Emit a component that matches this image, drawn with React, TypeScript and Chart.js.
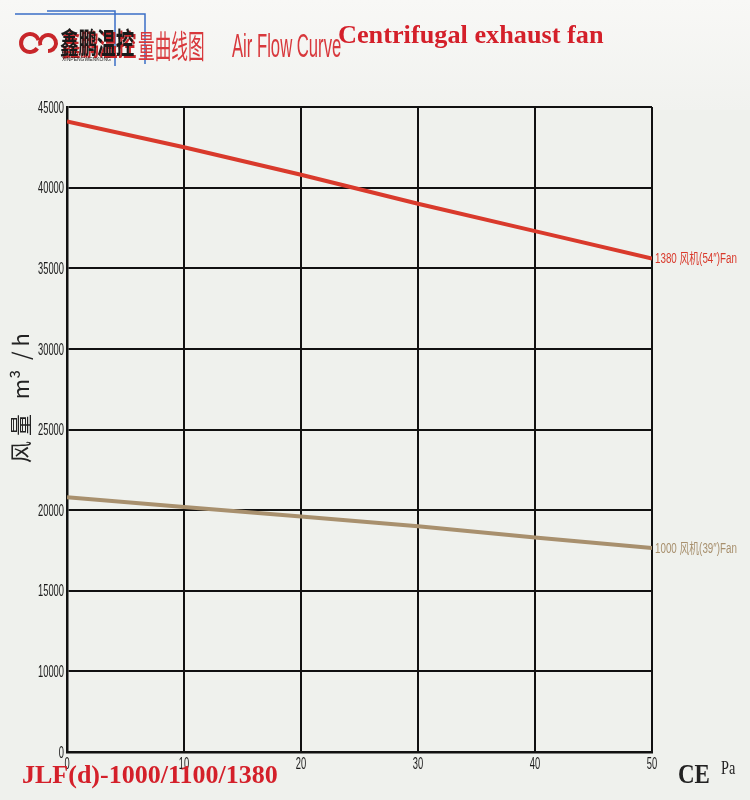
import React, { useEffect, useRef } from "react";
import { Chart, registerables } from "chart.js";

Chart.register(...registerables);

const pressure = [0, 10, 20, 30, 40, 50];
const flow1380 = [44100, 42500, 40800, 39000, 37300, 35600];
const flow1000 = [20800, 20200, 19600, 19000, 18300, 17650];
const seriesLabels = ["1380 风机(54″)Fan", "1000 风机(39″)Fan"];
const seriesColors = ["#d93a2c", "#a8906e"];
const yTicks = [5000, 10000, 15000, 20000, 25000, 30000, 35000, 40000, 45000];
const yTickLabels = ["0", "10000", "15000", "20000", "25000", "30000", "35000", "40000", "45000"];
const xTicks = [0, 10, 20, 30, 40, 50];

const SANS = '"Liberation Sans", "Noto Sans CJK SC", sans-serif';
const CJK = '"Noto Sans CJK SC", sans-serif';
const SERIF = '"Liberation Serif", "DejaVu Serif", serif';

function narrow(ctx: any, text: string, x: number, y: number, font: string, sx: number, align: string, color: string) {
  ctx.save();
  ctx.font = font;
  ctx.fillStyle = color;
  ctx.textAlign = align;
  ctx.translate(x, y);
  ctx.scale(sx, 1);
  ctx.fillText(text, 0, 0);
  ctx.restore();
}

const decorPlugin = {
  id: "decor",
  beforeDraw(chart: any) {
    const ctx = chart.ctx;
    ctx.save();
    ctx.fillStyle = "#eff1ed";
    ctx.fillRect(0, 0, chart.width, chart.height);
    const g = ctx.createLinearGradient(0, 0, 0, 110);
    g.addColorStop(0, "#f8f8f6");
    g.addColorStop(1, "#f1f2ef");
    ctx.fillStyle = g;
    ctx.fillRect(0, 0, chart.width, 110);
    ctx.restore();
  },
  afterDraw(chart: any) {
    const ctx = chart.ctx;
    const xs = chart.scales.x;
    const ys = chart.scales.y;
    ctx.save();
    ctx.textBaseline = "middle";
    // tick labels (condensed) from the scales' own ticks
    ys.ticks.forEach((t: any) => {
      const i = yTicks.indexOf(t.value);
      const lbl = i >= 0 ? yTickLabels[i] : String(t.value);
      narrow(ctx, lbl, ys.right - 3, ys.getPixelForValue(t.value) + 1, "17px " + SANS, 0.55, "right", "#1a1a1a");
    });
    xs.ticks.forEach((t: any) => {
      narrow(ctx, String(t.value), xs.getPixelForValue(t.value), xs.top + 12, "17px " + SANS, 0.55, "center", "#1a1a1a");
    });
    // series end labels
    const ends = [flow1380, flow1000];
    ends.forEach((arr, i) => {
      const px = xs.getPixelForValue(pressure[pressure.length - 1]);
      const py = ys.getPixelForValue(arr[arr.length - 1]);
      narrow(ctx, seriesLabels[i], px + 3, py + 1, "14px " + SANS, 0.7, "left", seriesColors[i]);
    });
    ctx.textBaseline = "alphabetic";
    // header: blue frame lines
    ctx.strokeStyle = "#3b6fc6";
    ctx.lineWidth = 1.5;
    ctx.beginPath();
    ctx.moveTo(15, 14);
    ctx.lineTo(145, 14);
    ctx.lineTo(145, 64);
    ctx.moveTo(47, 11);
    ctx.lineTo(115, 11);
    ctx.lineTo(115, 66);
    ctx.stroke();
    // logo swirl
    ctx.strokeStyle = "#c8262a";
    ctx.lineWidth = 4;
    ctx.beginPath();
    ctx.arc(30, 43, 9, Math.PI * 0.2, Math.PI * 1.9);
    ctx.stroke();
    ctx.beginPath();
    ctx.arc(48, 43, 8, Math.PI * 0.9, Math.PI * 2.5);
    ctx.stroke();
    // logo text
    narrow(ctx, "鑫鹏温控", 62, 56, "bold 29px " + CJK, 0.64, "left", "#c8262a");
    narrow(ctx, "鑫鹏温控", 60, 54, "bold 29px " + CJK, 0.64, "left", "#1a1a1a");
    narrow(ctx, "XINPENGWENKONG", 62, 61, "5px " + SANS, 1, "left", "#1a1a1a");
    // 风量曲线图 / Air Flow Curve
    narrow(ctx, "量曲线图", 138, 58, "32px " + CJK, 0.52, "left", "#d8383c");
    narrow(ctx, "Air Flow Curve", 232, 57, "34px " + SANS, 0.49, "left", "#d8383c");
    // title
    narrow(ctx, "Centrifugal exhaust fan", 338, 43, "bold 26px " + SERIF, 1.01, "left", "#d4202a");
    // bottom model text
    narrow(ctx, "JLF(d)-1000/1100/1380", 22, 783, "bold 26px " + SERIF, 1, "left", "#d4202a");
    // CE and Pa
    narrow(ctx, "CE", 678, 783, "bold 28px " + SERIF, 0.82, "left", "#222");
    narrow(ctx, "Pa", 721, 774, "19px " + SERIF, 0.75, "left", "#222");
    // y axis title
    ctx.translate(21, 398);
    ctx.rotate(-Math.PI / 2);
    ctx.textAlign = "center";
    ctx.textBaseline = "middle";
    ctx.fillStyle = "#222";
    ctx.font = "22px " + CJK;
    ctx.fillText("风 量   m³  / h", 0, 0);
    ctx.restore();
  },
};

export default function App() {
  const ref = useRef<HTMLCanvasElement>(null);
  useEffect(() => {
    document.body.style.margin = "0";
    const canvas = ref.current!;
    const chart = new Chart(canvas, {
      type: "line",
      data: {
        datasets: [
          {
            label: seriesLabels[0],
            data: pressure.map((p, i) => ({ x: p, y: flow1380[i] })),
            borderColor: seriesColors[0],
            borderWidth: 4,
            pointRadius: 0,
            tension: 0,
          },
          {
            label: seriesLabels[1],
            data: pressure.map((p, i) => ({ x: p, y: flow1000[i] })),
            borderColor: seriesColors[1],
            borderWidth: 4,
            pointRadius: 0,
            tension: 0,
          },
        ],
      },
      options: {
        animation: false,
        responsive: false,
        devicePixelRatio: 1,
        layout: { padding: { left: 0, right: 98, top: 107, bottom: 0 } },
        plugins: { legend: { display: false }, tooltip: { enabled: false } },
        scales: {
          x: {
            type: "linear",
            min: 0,
            max: 50,
            afterBuildTicks: (s: any) => {
              s.ticks = xTicks.map((v) => ({ value: v }));
            },
            afterFit: (s: any) => {
              s.height = 48;
            },
            ticks: { display: false },
            grid: { color: "#111", lineWidth: 2, drawTicks: false },
            border: { color: "#111", width: 2.5 },
          },
          y: {
            type: "linear",
            min: 5000,
            max: 45000,
            afterBuildTicks: (s: any) => {
              s.ticks = yTicks.map((v) => ({ value: v }));
            },
            afterFit: (s: any) => {
              s.width = 67;
            },
            ticks: { display: false },
            grid: { color: "#111", lineWidth: 2, drawTicks: false },
            border: { color: "#111", width: 2.5 },
          },
        },
      },
      plugins: [decorPlugin],
    });
    return () => chart.destroy();
  }, []);
  return (
    <div style={{ width: 750, height: 800 }}>
      <canvas ref={ref} width={750} height={800} style={{ display: "block" }} />
    </div>
  );
}
